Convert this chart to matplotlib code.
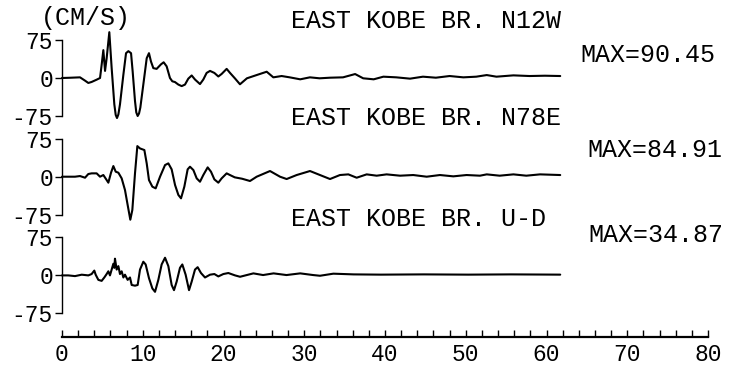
import matplotlib
matplotlib.use("Agg")
import matplotlib.pyplot as plt
from matplotlib.ticker import MultipleLocator, FixedLocator

# Velocity records, East Kobe Bridge (time in s, velocity in cm/s)
t_n12w = [0, 1.0, 2.23, 2.85, 3.26, 3.67, 4.29, 4.71, 4.91, 5.12, 5.33, 5.53, 5.86,
          6.15, 6.48, 6.65, 6.81, 6.98, 7.18, 7.60, 7.93, 8.22, 8.55, 8.75, 9.04,
          9.20, 9.37, 9.54, 9.70,
          10.07, 10.49, 10.77, 11.02, 11.31, 11.72, 12.26, 12.59, 12.96, 13.37,
          13.66, 13.99, 14.41, 14.82, 15.23, 15.64, 16.06, 16.47, 17.09, 17.50,
          17.91, 18.33, 18.87, 19.36, 19.77, 20.39, 20.81, 21.43, 22.04, 22.9,
          24.1, 25.35, 26.17, 27.2, 28.2, 29.5, 30.7, 31.9, 33.2, 34.8, 36.3,
          37.3, 38.6, 39.8, 41.4, 43.1, 44.7, 46.3, 48.0, 49.7, 51.3, 52.6, 53.8,
          55.9, 57.9, 59.8, 61.7]
v_n12w = [0, 0.5, 1.3, -5.2, -9.8, -7.8, -3.3, 0, 26, 55, 14, 39, 90.45,
          19.5, -52, -72.8, -79, -72, -52, 6.5, 49, 53, 49, 13, -45.5,
          -68, -75, -70, -58.5,
          -13, 39, 49, 32.5, 19.5, 18, 27, 31, 23, 0,
          -6.5, -8, -13, -16, -13, -1.3, 5, -3, -12, -3,
          10, 14, 10, 3, 8, 18, 10, -1, -12.4, -0.6,
          5.8, 12.4, 1.3, 3.9, 1.3, -2.6, 1.3, -0.6, 0.6, 1.3, 7.8,
          -0.6, -2.6, 2.6, 1.3, -1.3, 2.6, 0.6, 3.9, 1.3, 2.6, 5.8, 2.6,
          5.2, 3.9, 4.5, 3.9]

t_n78e = [0, 1.61, 2.23, 2.85, 3.26, 3.67, 4.29, 4.71, 5.12, 5.53, 5.74, 6.07,
          6.36, 6.65, 6.98, 7.39, 7.80, 8.13, 8.46, 8.71, 9.04, 9.33, 9.66, 10.20,
          10.49, 10.77, 11.19, 11.6, 12.14, 12.76, 13.17, 13.58, 14.0, 14.41,
          14.74, 15.15, 15.56, 15.85, 16.27, 16.68, 17.09, 17.5, 18.04, 18.45,
          18.87, 19.36, 19.77, 20.39, 20.8, 21.4, 22.3, 23.28, 24.11, 25.76, 27.0,
          27.82, 29.06, 30.71, 31.95, 33.19, 34.42, 35.46, 36.49, 37.73, 38.97,
          40.2, 41.86, 43.5, 45.16, 46.8, 48.46, 50.1, 51.76, 52.6, 54.2, 55.9,
          57.5, 59.2, 61.7]
v_n78e = [0, 0, 1.3, -2, 5.3, 6.6, 6.6, 0, 3.3, -6.6, -11.8, 7.9,
          21, 9.9, 7.9, -3.3, -26.3, -55.8, -84.91, -65.7, 6.6, 60.4, 55.8, 52.6,
          26.3, -6.6, -19.7, -23, 0, 23, 26.3, 14.5, -16.4, -36,
          -42.7, -19.7, 14.5, 19.7, 13.1, -3.3, -9.9, 3.3, 18.4, 9.9,
          -5.3, -11.8, -3.3, 6.6, 3.3, -1.3, -4, -8.5, 0, 11.2, 0,
          -4.6, 3.3, 11.2, 3.3, -4.6, 3.3, 4.6, -2, 4.6, 2,
          4.6, 2, 3.3, 0, 3.3, 0.7, 3.3, 2, 4.6, 2, 4.6,
          2, 4.6, 3.3]

t_ud = [0, 0.78, 1.61, 2.44, 3.26, 3.67, 4.0, 4.17, 4.5, 4.91, 5.24, 5.53, 5.74,
        5.94, 6.15, 6.36, 6.48, 6.56, 6.77, 6.98, 7.18, 7.39, 7.6, 7.8, 8.13,
        8.42, 8.63, 9.04, 9.37, 9.66, 10.07, 10.36, 10.77, 11.19, 11.52, 11.93,
        12.34, 12.76, 13.17, 13.58, 13.87, 14.2, 14.61, 14.9, 15.31, 15.73,
        16.06, 16.47, 16.8, 17.21, 17.71, 18.33, 18.87, 19.36, 19.98, 20.6,
        21.43, 22.05, 23.7, 24.9, 26.2, 27.8, 29.5, 31.1, 31.95, 33.6, 36.1,
        39.5, 44.8, 50.3, 55.6, 61.7]
v_ud = [0, 0, -1.4, 1.4, 0, 2.7, 9.5, 1.4, -8.8, -10.8, -4.1, 2.7, 8.1,
        0, 11.5, 23, 14.9, 33, 11.5, 18.3, 2.7, 8.1, -4.1, 1.4, -8.8,
        -4.1, -18.9, -20.3, -18.9, 11.5, 27, 21.6, -5.4, -25.7, -32.4, -8.8,
        21.6, 34.87, 18.3, -18.9, -29.1, -12.2, 14.9, 21.6, 1.4, -29.1,
        -12.2, 11.5, 16.2, 4.7, -4.1, 1.4, 2.7, -2, 2.7, 4.7,
        0, -2.7, 4, 0.7, 4, 0.7, 4, 0.7, -0.7, 3.4, 2,
        1.5, 2, 1.5, 2, 1.5]

titles = ["EAST KOBE BR. N12W", "EAST KOBE BR. N78E", "EAST KOBE BR. U-D"]
max_labels = ["MAX=90.45", "MAX=84.91", "MAX=34.87"]
unit_label = "(CM/S)"
y_ticks = [-75, 0, 75]
x_ticks = [0, 10, 20, 30, 40, 50, 60, 70, 80]

series = [(t_n12w, v_n12w), (t_n78e, v_n78e), (t_ud, v_ud)]

W, H = 744, 370
FONT = "Liberation Mono"
fig = plt.figure(figsize=(W / 100, H / 100), dpi=100)

left_px, right_px = 62, 708
zero_rows = [78, 176.7, 275.4]       # pixel row of each trace's zero line
px_per_75 = 38.0
ylim = 100
ax_h_px = 2 * ylim / 75 * px_per_75

for (t, v), z in zip(series, zero_rows):
    bottom_px = z + ax_h_px / 2
    ax = fig.add_axes([left_px / W, 1 - bottom_px / H,
                       (right_px - left_px) / W, ax_h_px / H])
    ax.patch.set_alpha(0)
    ax.plot(t, v, color="black", lw=1.5, clip_on=False,
            solid_joinstyle="round", solid_capstyle="round")
    ax.set_xlim(0, 80)
    ax.set_ylim(-ylim, ylim)
    for s in ("top", "right", "bottom"):
        ax.spines[s].set_visible(False)
    ax.spines["left"].set_bounds(-75, 75)
    ax.spines["left"].set_linewidth(1.0)
    ax.set_xticks([])
    ax.yaxis.set_major_locator(FixedLocator(y_ticks))
    ax.set_yticklabels([str(y) for y in y_ticks])
    ax.tick_params(axis="y", direction="out", length=5, width=1.0, pad=1.5,
                   labelsize=16.5)
    for lab in ax.get_yticklabels():
        lab.set_family(FONT)

# time axis below the three traces
axis_row = 337
axt = fig.add_axes([left_px / W, 1 - axis_row / H, (right_px - left_px) / W, 2 / H])
axt.patch.set_alpha(0)
for s in ("top", "right", "left"):
    axt.spines[s].set_visible(False)
axt.spines["bottom"].set_linewidth(1.6)
axt.set_xlim(0, 80)
axt.set_yticks([])
axt.xaxis.set_major_locator(FixedLocator(x_ticks))
axt.xaxis.set_minor_locator(MultipleLocator(2))
axt.set_xticklabels([str(x) for x in x_ticks])
axt.tick_params(axis="x", which="both", direction="in", length=5, width=1.0,
                pad=4, labelsize=16.5)
for lab in axt.get_xticklabels():
    lab.set_family(FONT)

# annotations
def put(text, x_px, y_px, ha="left"):
    fig.text(x_px / W, 1 - y_px / H, text, ha=ha, va="center",
             family=FONT, fontsize=18, color="black")

put(unit_label, 41, 18)
title_rows = [21.5, 118, 218.5]
max_pos = [(580, 54.5), (587, 150.5), (588, 235)]
for title, row, lab, (mx, my) in zip(titles, title_rows, max_labels, max_pos):
    put(title, 291, row)
    put(lab, mx, my)

fig.savefig("out.png", dpi=100)
